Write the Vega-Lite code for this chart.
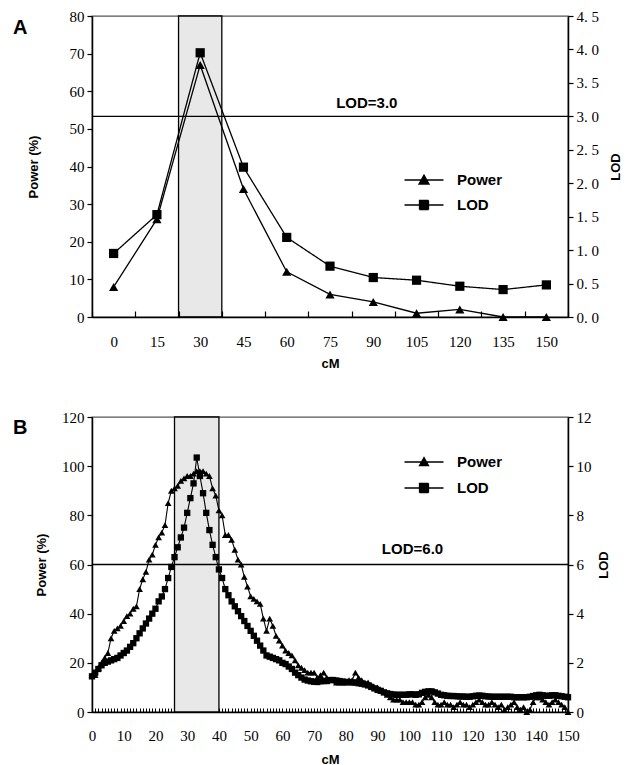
{
  "$schema": "https://vega.github.io/schema/vega-lite/v6.json",
  "background": "white",
  "padding": {"left": 12, "top": 8, "right": 0, "bottom": 0},
  "spacing": 38,
  "resolve": {"scale": {"color": "independent", "strokeDash": "independent"}, "legend": {"color": "independent", "strokeDash": "independent"}},
  "config": {
    "view": {"stroke": "#555", "strokeWidth": 1.3},
    "axis": {
      "labelFont": "Liberation Serif", "labelFontSize": 15, "labelColor": "black",
      "domainColor": "black", "domainWidth": 1.5, "tickColor": "black", "tickWidth": 1.2,
      "titleFont": "Liberation Sans", "titleFontWeight": "bold", "titleFontSize": 13, "titleColor": "black",
      "grid": false, "labelOverlap": false
    },
    "legend": {
      "orient": "none", "title": null, "padding": 0,
      "labelFont": "Liberation Sans", "labelFontWeight": "bold", "labelFontSize": 15, "labelColor": "black",
      "symbolSize": 400, "labelOffset": 22, "symbolFillColor": "black", "symbolStrokeColor": "black", "symbolStrokeWidth": 1.3, "symbolOpacity": 1
    }
  },
  "datasets": {
    "a": [
      {"cM": 0, "power": 8, "lod": 0.95},
      {"cM": 15, "power": 26, "lod": 1.53},
      {"cM": 30, "power": 67, "lod": 3.95},
      {"cM": 45, "power": 34, "lod": 2.24},
      {"cM": 60, "power": 12, "lod": 1.19},
      {"cM": 75, "power": 6, "lod": 0.76},
      {"cM": 90, "power": 4, "lod": 0.59},
      {"cM": 105, "power": 1, "lod": 0.55},
      {"cM": 120, "power": 2, "lod": 0.46},
      {"cM": 135, "power": 0, "lod": 0.41},
      {"cM": 150, "power": 0, "lod": 0.48}
    ],
    "b": [
      {"cM":0,"power":15,"lod":1.45},{"cM":1,"power":15,"lod":1.6},{"cM":2,"power":18,"lod":1.75},{"cM":3,"power":20,"lod":1.9},{"cM":4,"power":22,"lod":2.0},
      {"cM":5,"power":24,"lod":2.05},{"cM":6,"power":30,"lod":2.1},{"cM":7,"power":33,"lod":2.15},{"cM":8,"power":34,"lod":2.2},{"cM":9,"power":35,"lod":2.3},
      {"cM":10,"power":37,"lod":2.4},{"cM":11,"power":39,"lod":2.5},{"cM":12,"power":40,"lod":2.65},{"cM":13,"power":42,"lod":2.8},{"cM":14,"power":43,"lod":3.0},
      {"cM":15,"power":50,"lod":3.2},{"cM":16,"power":54,"lod":3.4},{"cM":17,"power":57,"lod":3.6},{"cM":18,"power":62,"lod":3.8},{"cM":19,"power":64,"lod":4.0},
      {"cM":20,"power":68,"lod":4.2},{"cM":21,"power":71,"lod":4.5},{"cM":22,"power":73,"lod":4.7},{"cM":23,"power":76,"lod":5.0},{"cM":24,"power":85,"lod":5.45},
      {"cM":25,"power":90,"lod":5.9},{"cM":26,"power":91,"lod":6.3},{"cM":27,"power":92,"lod":6.7},{"cM":28,"power":94,"lod":7.1},{"cM":29,"power":95,"lod":7.5},
      {"cM":30,"power":96,"lod":8.1},{"cM":31,"power":96,"lod":8.7},{"cM":32,"power":97,"lod":9.3},{"cM":33,"power":98,"lod":10.35},{"cM":34,"power":98,"lod":9.6},
      {"cM":35,"power":98,"lod":8.9},{"cM":36,"power":97,"lod":8.1},{"cM":37,"power":96,"lod":7.4},{"cM":38,"power":91,"lod":6.8},{"cM":39,"power":88,"lod":6.3},
      {"cM":40,"power":82,"lod":5.8},{"cM":41,"power":80,"lod":5.45},{"cM":42,"power":72,"lod":5.0},{"cM":43,"power":72,"lod":4.75},{"cM":44,"power":70,"lod":4.5},
      {"cM":45,"power":66,"lod":4.3},{"cM":46,"power":62,"lod":4.1},{"cM":47,"power":60,"lod":3.9},{"cM":48,"power":55,"lod":3.7},{"cM":49,"power":51,"lod":3.5},
      {"cM":50,"power":47,"lod":3.3},{"cM":51,"power":46,"lod":3.1},{"cM":52,"power":45,"lod":2.9},{"cM":53,"power":44,"lod":2.7},{"cM":54,"power":38,"lod":2.5},
      {"cM":55,"power":33,"lod":2.3},{"cM":56,"power":38,"lod":2.25},{"cM":57,"power":35,"lod":2.2},{"cM":58,"power":31,"lod":2.15},{"cM":59,"power":29,"lod":2.1},
      {"cM":60,"power":27,"lod":2.0},{"cM":61,"power":25,"lod":1.95},{"cM":62,"power":24,"lod":1.85},{"cM":63,"power":23,"lod":1.75},{"cM":64,"power":21,"lod":1.6},
      {"cM":65,"power":19,"lod":1.5},{"cM":66,"power":18,"lod":1.4},{"cM":67,"power":17,"lod":1.32},{"cM":68,"power":16,"lod":1.28},{"cM":69,"power":16,"lod":1.25},
      {"cM":70,"power":16,"lod":1.23},{"cM":71,"power":14,"lod":1.22},{"cM":72,"power":15,"lod":1.25},{"cM":73,"power":16,"lod":1.26},{"cM":74,"power":14,"lod":1.26},
      {"cM":75,"power":13,"lod":1.3},{"cM":76,"power":13,"lod":1.3},{"cM":77,"power":12,"lod":1.28},{"cM":78,"power":12,"lod":1.26},{"cM":79,"power":12,"lod":1.24},
      {"cM":80,"power":12,"lod":1.22},{"cM":81,"power":13,"lod":1.22},{"cM":82,"power":13,"lod":1.2},{"cM":83,"power":16,"lod":1.2},{"cM":84,"power":14,"lod":1.17},
      {"cM":85,"power":13,"lod":1.15},{"cM":86,"power":12,"lod":1.12},{"cM":87,"power":12,"lod":1.08},{"cM":88,"power":11,"lod":1.02},{"cM":89,"power":10,"lod":0.96},
      {"cM":90,"power":10,"lod":0.9},{"cM":91,"power":9,"lod":0.86},{"cM":92,"power":8,"lod":0.8},{"cM":93,"power":7,"lod":0.76},{"cM":94,"power":6,"lod":0.73},
      {"cM":95,"power":5,"lod":0.71},{"cM":96,"power":5,"lod":0.7},{"cM":97,"power":5,"lod":0.7},{"cM":98,"power":4,"lod":0.7},{"cM":99,"power":4,"lod":0.7},
      {"cM":100,"power":4,"lod":0.72},{"cM":101,"power":4,"lod":0.72},{"cM":102,"power":3,"lod":0.7},{"cM":103,"power":3,"lod":0.72},{"cM":104,"power":4,"lod":0.78},
      {"cM":105,"power":6,"lod":0.82},{"cM":106,"power":7,"lod":0.84},{"cM":107,"power":6,"lod":0.84},{"cM":108,"power":4,"lod":0.8},{"cM":109,"power":3,"lod":0.75},
      {"cM":110,"power":3,"lod":0.7},{"cM":111,"power":4,"lod":0.68},{"cM":112,"power":3,"lod":0.66},{"cM":113,"power":3,"lod":0.65},{"cM":114,"power":2,"lod":0.65},
      {"cM":115,"power":3,"lod":0.64},{"cM":116,"power":4,"lod":0.63},{"cM":117,"power":3,"lod":0.63},{"cM":118,"power":3,"lod":0.62},{"cM":119,"power":2,"lod":0.62},
      {"cM":120,"power":3,"lod":0.64},{"cM":121,"power":4,"lod":0.66},{"cM":122,"power":5,"lod":0.67},{"cM":123,"power":4,"lod":0.66},{"cM":124,"power":3,"lod":0.64},
      {"cM":125,"power":3,"lod":0.63},{"cM":126,"power":4,"lod":0.62},{"cM":127,"power":3,"lod":0.62},{"cM":128,"power":2,"lod":0.62},{"cM":129,"power":3,"lod":0.62},
      {"cM":130,"power":1,"lod":0.62},{"cM":131,"power":2,"lod":0.62},{"cM":132,"power":3,"lod":0.62},{"cM":133,"power":4,"lod":0.6},{"cM":134,"power":2,"lod":0.6},
      {"cM":135,"power":1,"lod":0.6},{"cM":136,"power":2,"lod":0.6},{"cM":137,"power":0,"lod":0.6},{"cM":138,"power":1,"lod":0.62},{"cM":139,"power":4,"lod":0.65},
      {"cM":140,"power":6,"lod":0.68},{"cM":141,"power":6,"lod":0.7},{"cM":142,"power":5,"lod":0.68},{"cM":143,"power":4,"lod":0.66},{"cM":144,"power":3,"lod":0.66},
      {"cM":145,"power":4,"lod":0.68},{"cM":146,"power":5,"lod":0.68},{"cM":147,"power":4,"lod":0.66},{"cM":148,"power":3,"lod":0.64},{"cM":149,"power":2,"lod":0.62},
      {"cM":150,"power":0,"lod":0.6}
    ]
  },
  "vconcat": [
    {
      "width": 476, "height": 301,
      "title": {"text": "A", "anchor": "start", "frame": "group", "dx": -79, "dy": 29, "offset": 0, "fontSize": 20, "font": "Liberation Sans", "fontWeight": "bold", "color": "black"},
      "layer": [
        {
          "layer": [
            {
              "data": {"values": [{"region_cM": 30}]},
              "mark": {"type": "rect", "fill": "#e8e8e8", "stroke": "black", "strokeWidth": 1.3},
              "encoding": {
                "x": {"field": "region_cM", "type": "ordinal", "scale": {"type": "band", "paddingInner": 0, "paddingOuter": 0, "domain": [0,15,30,45,60,75,90,105,120,135,150]},
                  "axis": {"title": "cM", "labelAngle": 0, "tickBand": "extent", "tickSize": -6, "labelPadding": 23, "titlePadding": 8, "labelOverlap": false, "labelFont": "Liberation Serif", "labelFontSize": 15}},
                "y": {"datum": 0, "type": "quantitative", "scale": {"domain": [0, 80], "nice": false},
                  "axis": {"title": "Power (%)", "values": [0,10,20,30,40,50,60,70,80], "tickSize": 5, "labelPadding": 3, "titlePadding": 29, "labelOverlap": false, "labelFont": "Liberation Serif", "labelFontSize": 15}},
                "y2": {"datum": 80}
              }
            },
            {
              "data": {"name": "a"},
              "mark": {"type": "line", "strokeWidth": 1.3},
              "encoding": {
                "x": {"field": "cM", "type": "ordinal", "bandPosition": 0.5,
                  "axis": {"title": "cM", "labelAngle": 0, "tickBand": "extent", "tickSize": -6, "labelPadding": 23, "titlePadding": 8, "labelOverlap": false, "labelFont": "Liberation Serif", "labelFontSize": 15}},
                "y": {"field": "power", "type": "quantitative",
                  "axis": {"title": "Power (%)", "values": [0,10,20,30,40,50,60,70,80], "tickSize": 5, "labelPadding": 3, "titlePadding": 29, "labelOverlap": false, "labelFont": "Liberation Serif", "labelFontSize": 15}},
                "color": {"datum": "Power", "scale": {"domain": ["Power"], "range": ["black"]},
                  "legend": {"legendX": 321, "legendY": 153, "symbolType": "M-1.95,0H1.95M0,-0.5L0.5,0.4L-0.5,0.4Z"}}
              }
            },
            {
              "data": {"name": "a"},
              "mark": {"type": "point", "shape": "triangle-up", "filled": true, "color": "black", "size": 85, "opacity": 1},
              "encoding": {
                "x": {"field": "cM", "type": "ordinal", "bandPosition": 0.5,
                  "axis": {"title": "cM", "labelAngle": 0, "tickBand": "extent", "tickSize": -6, "labelPadding": 23, "titlePadding": 8, "labelOverlap": false, "labelFont": "Liberation Serif", "labelFontSize": 15}},
                "y": {"field": "power", "type": "quantitative",
                  "axis": {"title": "Power (%)", "values": [0,10,20,30,40,50,60,70,80], "tickSize": 5, "labelPadding": 3, "titlePadding": 29, "labelOverlap": false, "labelFont": "Liberation Serif", "labelFontSize": 15}}
              }
            }
          ]
        },
        {
          "layer": [
            {
              "data": {"name": "a"},
              "mark": {"type": "line", "color": "black", "strokeWidth": 1.3},
              "encoding": {
                "x": {"field": "cM", "type": "ordinal", "bandPosition": 0.5,
                  "axis": {"title": "cM", "labelAngle": 0, "tickBand": "extent", "tickSize": -6, "labelPadding": 23, "titlePadding": 8, "labelOverlap": false, "labelFont": "Liberation Serif", "labelFontSize": 15}},
                "y": {"field": "lod", "type": "quantitative", "scale": {"domain": [0, 4.5], "nice": false},
                  "axis": {"title": "LOD", "orient": "right", "values": [0,0.5,1,1.5,2,2.5,3,3.5,4,4.5], "labelExpr": "replace(format(datum.value, '.1f'), '.', '. ')", "tickSize": 5, "labelPadding": 3, "titlePadding": 24, "titleAngle": 270, "labelOverlap": false, "labelFont": "Liberation Serif", "labelFontSize": 15}},
                "strokeDash": {"datum": "LOD", "scale": {"domain": ["LOD"], "range": [[1, 0]]},
                  "legend": {"legendX": 321, "legendY": 178, "symbolType": "M-1.95,0H1.95M-0.45,-0.45H0.45V0.45H-0.45Z"}}
              }
            },
            {
              "data": {"name": "a"},
              "mark": {"type": "point", "shape": "square", "filled": true, "color": "black", "size": 85, "opacity": 1},
              "encoding": {
                "x": {"field": "cM", "type": "ordinal", "bandPosition": 0.5,
                  "axis": {"title": "cM", "labelAngle": 0, "tickBand": "extent", "tickSize": -6, "labelPadding": 23, "titlePadding": 8, "labelOverlap": false, "labelFont": "Liberation Serif", "labelFontSize": 15}},
                "y": {"field": "lod", "type": "quantitative",
                  "axis": {"title": "LOD", "orient": "right", "values": [0,0.5,1,1.5,2,2.5,3,3.5,4,4.5], "labelExpr": "replace(format(datum.value, '.1f'), '.', '. ')", "tickSize": 5, "labelPadding": 3, "titlePadding": 24, "titleAngle": 270, "labelOverlap": false, "labelFont": "Liberation Serif", "labelFontSize": 15}}
              }
            },
            {
              "data": {"values": [{"threshold": 3, "label": "LOD=3.0"}]},
              "mark": {"type": "rule", "color": "black", "strokeWidth": 1.3},
              "encoding": {"y": {"field": "threshold", "type": "quantitative",
                  "axis": {"title": "LOD", "orient": "right", "values": [0,0.5,1,1.5,2,2.5,3,3.5,4,4.5], "labelExpr": "replace(format(datum.value, '.1f'), '.', '. ')", "tickSize": 5, "labelPadding": 3, "titlePadding": 24, "titleAngle": 270, "labelOverlap": false, "labelFont": "Liberation Serif", "labelFontSize": 15}}}
            },
            {
              "data": {"values": [{"threshold": 3, "label": "LOD=3.0"}]},
              "mark": {"type": "text", "font": "Liberation Sans", "fontWeight": "bold", "fontSize": 15, "color": "black", "baseline": "bottom", "dy": -5},
              "encoding": {
                "x": {"datum": 90, "type": "ordinal", "bandPosition": 0.35,
                  "axis": {"title": "cM", "labelAngle": 0, "tickBand": "extent", "tickSize": -6, "labelPadding": 23, "titlePadding": 8, "labelOverlap": false, "labelFont": "Liberation Serif", "labelFontSize": 15}},
                "y": {"field": "threshold", "type": "quantitative",
                  "axis": {"title": "LOD", "orient": "right", "values": [0,0.5,1,1.5,2,2.5,3,3.5,4,4.5], "labelExpr": "replace(format(datum.value, '.1f'), '.', '. ')", "tickSize": 5, "labelPadding": 3, "titlePadding": 24, "titleAngle": 270, "labelOverlap": false, "labelFont": "Liberation Serif", "labelFontSize": 15}},
                "text": {"field": "label"}
              }
            }
          ]
        }
      ],
      "resolve": {"scale": {"y": "independent"}}
    },
    {
      "width": 476, "height": 295,
      "title": {"text": "B", "anchor": "start", "frame": "group", "dx": -79, "dy": 28, "offset": 0, "fontSize": 20, "font": "Liberation Sans", "fontWeight": "bold", "color": "black"},
      "layer": [
        {
          "layer": [
            {
              "data": {"values": [{"from": 26, "to": 40}]},
              "mark": {"type": "rect", "fill": "#e8e8e8", "stroke": "black", "strokeWidth": 1.3},
              "encoding": {
                "x": {"field": "from", "type": "quantitative", "scale": {"domain": [0, 150], "nice": false, "zero": false},
                  "axis": {"title": "cM", "values": [0,1,2,3,4,5,6,7,8,9,10,11,12,13,14,15,16,17,18,19,20,21,22,23,24,25,26,27,28,29,30,31,32,33,34,35,36,37,38,39,40,41,42,43,44,45,46,47,48,49,50,51,52,53,54,55,56,57,58,59,60,61,62,63,64,65,66,67,68,69,70,71,72,73,74,75,76,77,78,79,80,81,82,83,84,85,86,87,88,89,90,91,92,93,94,95,96,97,98,99,100,101,102,103,104,105,106,107,108,109,110,111,112,113,114,115,116,117,118,119,120,121,122,123,124,125,126,127,128,129,130,131,132,133,134,135,136,137,138,139,140,141,142,143,144,145,146,147,148,149,150], "labelExpr": "datum.value % 10 === 0 ? datum.label : ''", "labelOverlap": false, "labelFlush": false, "format": "d", "tickSize": -4, "tickWidth": 1, "labelPadding": 20, "titlePadding": 10, "labelFont": "Liberation Serif", "labelFontSize": 15}},
                "x2": {"field": "to"},
                "y": {"datum": 0, "type": "quantitative", "scale": {"domain": [0, 120], "nice": false},
                  "axis": {"title": "Power (%)", "values": [0,20,40,60,80,100,120], "tickSize": 5, "labelPadding": 3, "titlePadding": 13, "labelOverlap": false, "labelFont": "Liberation Serif", "labelFontSize": 15}},
                "y2": {"datum": 120}
              }
            },
            {
              "data": {"name": "b"},
              "mark": {"type": "line", "strokeWidth": 1.1},
              "encoding": {
                "x": {"field": "cM", "type": "quantitative",
                  "axis": {"title": "cM", "values": [0,1,2,3,4,5,6,7,8,9,10,11,12,13,14,15,16,17,18,19,20,21,22,23,24,25,26,27,28,29,30,31,32,33,34,35,36,37,38,39,40,41,42,43,44,45,46,47,48,49,50,51,52,53,54,55,56,57,58,59,60,61,62,63,64,65,66,67,68,69,70,71,72,73,74,75,76,77,78,79,80,81,82,83,84,85,86,87,88,89,90,91,92,93,94,95,96,97,98,99,100,101,102,103,104,105,106,107,108,109,110,111,112,113,114,115,116,117,118,119,120,121,122,123,124,125,126,127,128,129,130,131,132,133,134,135,136,137,138,139,140,141,142,143,144,145,146,147,148,149,150], "labelExpr": "datum.value % 10 === 0 ? datum.label : ''", "labelOverlap": false, "labelFlush": false, "format": "d", "tickSize": -4, "tickWidth": 1, "labelPadding": 20, "titlePadding": 10, "labelFont": "Liberation Serif", "labelFontSize": 15}},
                "y": {"field": "power", "type": "quantitative",
                  "axis": {"title": "Power (%)", "values": [0,20,40,60,80,100,120], "tickSize": 5, "labelPadding": 3, "titlePadding": 13, "labelOverlap": false, "labelFont": "Liberation Serif", "labelFontSize": 15}},
                "color": {"datum": "Power", "scale": {"domain": ["Power"], "range": ["black"]},
                  "legend": {"legendX": 321, "legendY": 34, "symbolType": "M-1.95,0H1.95M0,-0.45L0.45,0.35L-0.45,0.35Z"}}
              }
            },
            {
              "data": {"name": "b"},
              "mark": {"type": "point", "shape": "triangle-up", "filled": true, "color": "black", "size": 45, "opacity": 1},
              "encoding": {
                "x": {"field": "cM", "type": "quantitative",
                  "axis": {"title": "cM", "values": [0,1,2,3,4,5,6,7,8,9,10,11,12,13,14,15,16,17,18,19,20,21,22,23,24,25,26,27,28,29,30,31,32,33,34,35,36,37,38,39,40,41,42,43,44,45,46,47,48,49,50,51,52,53,54,55,56,57,58,59,60,61,62,63,64,65,66,67,68,69,70,71,72,73,74,75,76,77,78,79,80,81,82,83,84,85,86,87,88,89,90,91,92,93,94,95,96,97,98,99,100,101,102,103,104,105,106,107,108,109,110,111,112,113,114,115,116,117,118,119,120,121,122,123,124,125,126,127,128,129,130,131,132,133,134,135,136,137,138,139,140,141,142,143,144,145,146,147,148,149,150], "labelExpr": "datum.value % 10 === 0 ? datum.label : ''", "labelOverlap": false, "labelFlush": false, "format": "d", "tickSize": -4, "tickWidth": 1, "labelPadding": 20, "titlePadding": 10, "labelFont": "Liberation Serif", "labelFontSize": 15}},
                "y": {"field": "power", "type": "quantitative",
                  "axis": {"title": "Power (%)", "values": [0,20,40,60,80,100,120], "tickSize": 5, "labelPadding": 3, "titlePadding": 13, "labelOverlap": false, "labelFont": "Liberation Serif", "labelFontSize": 15}}
              }
            }
          ]
        },
        {
          "layer": [
            {
              "data": {"name": "b"},
              "mark": {"type": "line", "color": "black", "strokeWidth": 1.1},
              "encoding": {
                "x": {"field": "cM", "type": "quantitative",
                  "axis": {"title": "cM", "values": [0,1,2,3,4,5,6,7,8,9,10,11,12,13,14,15,16,17,18,19,20,21,22,23,24,25,26,27,28,29,30,31,32,33,34,35,36,37,38,39,40,41,42,43,44,45,46,47,48,49,50,51,52,53,54,55,56,57,58,59,60,61,62,63,64,65,66,67,68,69,70,71,72,73,74,75,76,77,78,79,80,81,82,83,84,85,86,87,88,89,90,91,92,93,94,95,96,97,98,99,100,101,102,103,104,105,106,107,108,109,110,111,112,113,114,115,116,117,118,119,120,121,122,123,124,125,126,127,128,129,130,131,132,133,134,135,136,137,138,139,140,141,142,143,144,145,146,147,148,149,150], "labelExpr": "datum.value % 10 === 0 ? datum.label : ''", "labelOverlap": false, "labelFlush": false, "format": "d", "tickSize": -4, "tickWidth": 1, "labelPadding": 20, "titlePadding": 10, "labelFont": "Liberation Serif", "labelFontSize": 15}},
                "y": {"field": "lod", "type": "quantitative", "scale": {"domain": [0, 12], "nice": false},
                  "axis": {"title": "LOD", "orient": "right", "values": [0,2,4,6,8,10,12], "tickSize": 5, "labelPadding": 3, "titlePadding": 19, "titleAngle": 270, "labelOverlap": false, "labelFont": "Liberation Serif", "labelFontSize": 15}},
                "strokeDash": {"datum": "LOD", "scale": {"domain": ["LOD"], "range": [[1, 0]]},
                  "legend": {"legendX": 321, "legendY": 60, "symbolType": "M-1.95,0H1.95M-0.45,-0.45H0.45V0.45H-0.45Z"}}
              }
            },
            {
              "data": {"name": "b"},
              "mark": {"type": "point", "shape": "square", "filled": true, "color": "black", "size": 40, "opacity": 1},
              "encoding": {
                "x": {"field": "cM", "type": "quantitative",
                  "axis": {"title": "cM", "values": [0,1,2,3,4,5,6,7,8,9,10,11,12,13,14,15,16,17,18,19,20,21,22,23,24,25,26,27,28,29,30,31,32,33,34,35,36,37,38,39,40,41,42,43,44,45,46,47,48,49,50,51,52,53,54,55,56,57,58,59,60,61,62,63,64,65,66,67,68,69,70,71,72,73,74,75,76,77,78,79,80,81,82,83,84,85,86,87,88,89,90,91,92,93,94,95,96,97,98,99,100,101,102,103,104,105,106,107,108,109,110,111,112,113,114,115,116,117,118,119,120,121,122,123,124,125,126,127,128,129,130,131,132,133,134,135,136,137,138,139,140,141,142,143,144,145,146,147,148,149,150], "labelExpr": "datum.value % 10 === 0 ? datum.label : ''", "labelOverlap": false, "labelFlush": false, "format": "d", "tickSize": -4, "tickWidth": 1, "labelPadding": 20, "titlePadding": 10, "labelFont": "Liberation Serif", "labelFontSize": 15}},
                "y": {"field": "lod", "type": "quantitative",
                  "axis": {"title": "LOD", "orient": "right", "values": [0,2,4,6,8,10,12], "tickSize": 5, "labelPadding": 3, "titlePadding": 19, "titleAngle": 270, "labelOverlap": false, "labelFont": "Liberation Serif", "labelFontSize": 15}}
              }
            },
            {
              "data": {"values": [{"threshold": 6, "label": "LOD=6.0"}]},
              "mark": {"type": "rule", "color": "black", "strokeWidth": 1.3},
              "encoding": {"y": {"field": "threshold", "type": "quantitative",
                  "axis": {"title": "LOD", "orient": "right", "values": [0,2,4,6,8,10,12], "tickSize": 5, "labelPadding": 3, "titlePadding": 19, "titleAngle": 270, "labelOverlap": false, "labelFont": "Liberation Serif", "labelFontSize": 15}}}
            },
            {
              "data": {"values": [{"threshold": 6, "label": "LOD=6.0"}]},
              "mark": {"type": "text", "font": "Liberation Sans", "fontWeight": "bold", "fontSize": 15, "color": "black", "baseline": "bottom", "dy": -8},
              "encoding": {
                "x": {"datum": 101, "type": "quantitative",
                  "axis": {"title": "cM", "values": [0,1,2,3,4,5,6,7,8,9,10,11,12,13,14,15,16,17,18,19,20,21,22,23,24,25,26,27,28,29,30,31,32,33,34,35,36,37,38,39,40,41,42,43,44,45,46,47,48,49,50,51,52,53,54,55,56,57,58,59,60,61,62,63,64,65,66,67,68,69,70,71,72,73,74,75,76,77,78,79,80,81,82,83,84,85,86,87,88,89,90,91,92,93,94,95,96,97,98,99,100,101,102,103,104,105,106,107,108,109,110,111,112,113,114,115,116,117,118,119,120,121,122,123,124,125,126,127,128,129,130,131,132,133,134,135,136,137,138,139,140,141,142,143,144,145,146,147,148,149,150], "labelExpr": "datum.value % 10 === 0 ? datum.label : ''", "labelOverlap": false, "labelFlush": false, "format": "d", "tickSize": -4, "tickWidth": 1, "labelPadding": 20, "titlePadding": 10, "labelFont": "Liberation Serif", "labelFontSize": 15}},
                "y": {"field": "threshold", "type": "quantitative",
                  "axis": {"title": "LOD", "orient": "right", "values": [0,2,4,6,8,10,12], "tickSize": 5, "labelPadding": 3, "titlePadding": 19, "titleAngle": 270, "labelOverlap": false, "labelFont": "Liberation Serif", "labelFontSize": 15}},
                "text": {"field": "label"}
              }
            }
          ]
        }
      ],
      "resolve": {"scale": {"y": "independent"}}
    }
  ]
}
